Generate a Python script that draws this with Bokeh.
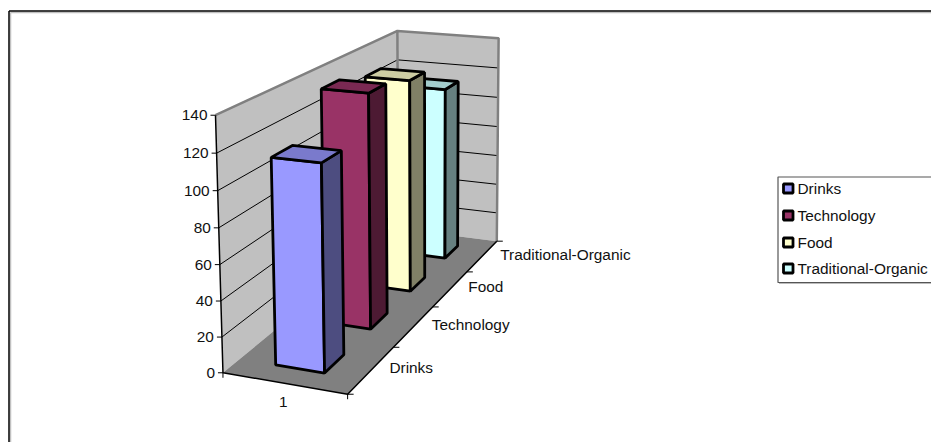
import numpy as np
from bokeh.plotting import figure
from bokeh.models import ColumnDataSource
from bokeh.core.properties import value
from bokeh.embed import file_html
from bokeh.resources import INLINE

# ---- data ----
categories = ["Drinks", "Technology", "Food", "Traditional-Organic"]
series_values = [115, 138, 132, 113]
value_ticks = [0, 20, 40, 60, 80, 100, 120, 140]
x_category = ["1"]
front_colors = ["#9999FF", "#993366", "#FFFFCC", "#CCFFFF"]
top_colors = ["#7A7ACC", "#7A2952", "#CCCCA3", "#A3CCCC"]
side_colors = ["#4D4D80", "#4D1A33", "#808066", "#668080"]
VMAX = 140.0

# ---- camera: maps (across, depth, value fraction) to window pixels ----
anchors = [
    ((0, 0, 0), (222, 373)), ((1, 0, 0), (346, 392)), ((1, 1, 0), (495, 241.5)),
    ((0, 1, 0), (398, 227)), ((0, 0, 1), (215, 115)), ((0, 1, 1), (397, 31)),
    ((1, 1, 1), (498, 37)), ((1, .25, 0), (394, 347)), ((1, .5, 0), (433, 307)),
    ((1, .75, 0), (467, 272)),
]
A, b = [], []
for (X, Y, Z), (px, py) in anchors:
    A.append([X, Y, Z, 1, 0, 0, 0, 0, -px * X, -px * Y, -px * Z]); b.append(px)
    A.append([0, 0, 0, 0, X, Y, Z, 1, -py * X, -py * Y, -py * Z]); b.append(py)
sol = np.linalg.lstsq(np.array(A, float), np.array(b, float), rcond=None)[0]
CAM = np.append(sol, 1.0).reshape(3, 4)


def proj(u, v, w):
    h = CAM @ np.array([u, v, w, 1.0])
    return h[0] / h[2], h[1] / h[2]


def poly(pts):
    p_ = [proj(*q) for q in pts]
    return [a for a, _ in p_], [c for _, c in p_]


W, H = 931, 442
p = figure(width=W, height=H, x_range=(0, W), y_range=(H, 0),
           toolbar_location=None, output_backend="svg", min_border=0,
           x_axis_type=None, y_axis_type=None, outline_line_color=None)
p.grid.visible = False

FONT = value("Liberation Sans")
FS = "15.4px"
INK = "#111111"

# frame (only top and left edges show in the crop)
p.line([10, 931], [12, 12], line_color="#C0C0C0", line_width=1.5)
p.line([10, 10], [12, 442], line_color="#C0C0C0", line_width=1.5)
p.line([8.5, 931], [10.5, 10.5], line_color="#000000", line_width=1.5)
p.line([8.5, 8.5], [10.5, 442], line_color="#000000", line_width=1.5)

# walls and floor
wx, wy = zip(poly([(0, 0, 0), (0, 1, 0), (0, 1, 1), (0, 0, 1)]),
             poly([(0, 1, 0), (1, 1, 0), (1, 1, 1), (0, 1, 1)]),
             poly([(0, 0, 0), (1, 0, 0), (1, 1, 0), (0, 1, 0)]))
p.patches(list(wx), list(wy), fill_color=["#C0C0C0", "#C0C0C0", "#808080"], line_color=None)

# gridlines
for t in value_ticks[1:-1]:
    w = t / VMAX
    x_, y_ = poly([(0, 0, w), (0, 1, w), (1, 1, w)])
    p.line(x_, y_, line_color="#000000", line_width=1)

# wall edges
for seg in ([(0, 0, 1), (0, 1, 1), (1, 1, 1), (1, 1, 0)], [(0, 1, 1), (0, 1, 0)]):
    x_, y_ = poly(seg)
    p.line(x_, y_, line_color="#808080", line_width=2.5)

# axis lines
x_, y_ = poly([(0, 0, 1), (0, 0, 0), (1, 0, 0), (1, 1, 0)])
p.line(x_, y_, line_color="#000000", line_width=1.5)

# value axis ticks and labels
for t in value_ticks:
    px, py = proj(0, 0, t / VMAX)
    p.line([px - 5, px], [py, py], line_color="#000000", line_width=1)
lab = [proj(0, 0, t / VMAX) for t in value_ticks]
p.text([a - 8 for a, _ in lab], [c for _, c in lab], text=[str(t) for t in value_ticks],
       text_font=FONT, text_font_size=FS, text_color=INK, text_align="right", text_baseline="middle")

# category axis
for u in (0, 1):
    px, py = proj(u, 0, 0)
    p.line([px, px], [py, py + 5], line_color="#000000", line_width=1)
px, py = proj(.5, 0, 0)
p.text([px - 1], [py + 19], text=x_category, text_font=FONT, text_font_size=FS, text_color=INK,
       text_align="center", text_baseline="middle")

# depth axis
n = len(categories)
for i in range(n + 1):
    px, py = proj(1, i / n, 0)
    p.line([px, px + 6], [py, py], line_color="#000000", line_width=1)
for i, c in enumerate(categories):
    px, py = proj(1, (i + .5) / n, 0)
    p.text([px + 18], [py - 2], text=[c], text_font=FONT, text_font_size=FS, text_color=INK,
           text_align="left", text_baseline="middle")

# bars, back to front
GAP = 0.3
for i in reversed(range(n)):
    h = series_values[i] / VMAX
    u0, u1 = GAP, 1 - GAP
    v0, v1 = (i + GAP) / n, (i + 1 - GAP) / n
    fx, fy = poly([(u0, v0, 0), (u1, v0, 0), (u1, v0, h), (u0, v0, h)])
    sx, sy = poly([(u1, v0, 0), (u1, v1, 0), (u1, v1, h), (u1, v0, h)])
    tx, ty = poly([(u0, v0, h), (u1, v0, h), (u1, v1, h), (u0, v1, h)])
    src = ColumnDataSource(dict(xs=[fx, sx, tx], ys=[fy, sy, ty],
                                c=[front_colors[i], side_colors[i], top_colors[i]]))
    p.patches("xs", "ys", source=src, fill_color="c", line_color="#000000", line_width=2.8)

# legend
p.line([931, 777.5, 777.5, 931], [176.5, 176.5, 282, 282], line_color="#555555", line_width=1.2)
p.line([778.5, 931], [283, 283], line_color="#BBBBBB", line_width=1)
rows = [188, 215, 242, 268]
for i, c in enumerate(categories):
    y = rows[i]
    p.patch([783, 792.5, 792.5, 783], [y - 4.5, y - 4.5, y + 4.5, y + 4.5],
            fill_color=front_colors[i], line_color="#000000", line_width=2.8)
p.text([797] * n, rows, text=categories, text_font=FONT, text_font_size=FS, text_color=INK,
       text_align="left", text_baseline="middle")

open("out.html", "w").write(file_html(p, INLINE))
